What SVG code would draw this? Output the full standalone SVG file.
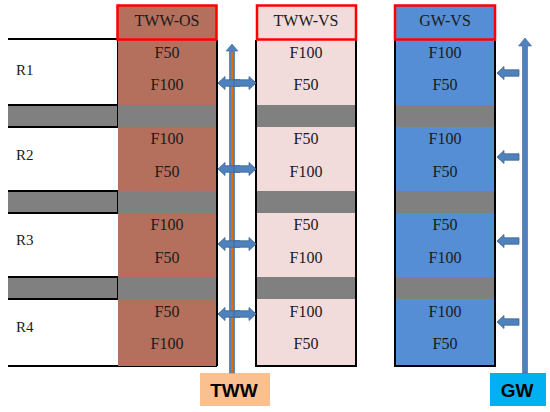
<svg xmlns="http://www.w3.org/2000/svg" width="550" height="412" viewBox="0 0 550 412">
<defs>
<style>
.lbl{font-family:"Liberation Serif","Times New Roman",serif;font-size:16px;fill:#1a1a1a;text-anchor:middle;dominant-baseline:central}
.rl{font-family:"Liberation Serif","Times New Roman",serif;font-size:15px;fill:#1a1a1a;dominant-baseline:central}
.box{font-family:"Liberation Sans",Arial,sans-serif;font-size:19px;font-weight:bold;fill:#000;text-anchor:middle;dominant-baseline:central}
.hdr{stroke:#ff0000;stroke-width:2.5}
.edge{stroke:#000;stroke-width:2;fill:none}
.gray{fill:#808080}
.arr{fill:#4f81bd;stroke:#3a6497;stroke-width:0.8}
</style>
<path id="la" d="M0,0 L7,-6.5 L7,-3.2 L22,-3.2 L22,3.2 L7,3.2 L7,6.5 Z"/>
</defs>

<g id="left-side">
<path class="edge" d="M8,39 H118"/>
<rect class="gray" x="8" y="105" width="110" height="22"/>
<rect class="gray" x="8" y="191" width="110" height="22"/>
<rect class="gray" x="8" y="277" width="110" height="22"/>
<path class="edge" d="M8,105 H118 M8,127 H118 M8,191 H118 M8,213 H118 M8,277 H118 M8,299 H118 M118,39 V127 M118,191 V213 M118,277 V299 M8,366 H217"/>
<text class="rl" x="16" y="70">R1</text>
<text class="rl" x="16" y="155">R2</text>
<text class="rl" x="16" y="240">R3</text>
<text class="rl" x="16" y="327">R4</text>
</g>

<g id="tww-os">
<rect x="118" y="40" width="99" height="326" fill="#b4705c"/>
<rect class="gray" x="118" y="105" width="99" height="22"/>
<rect class="gray" x="118" y="191" width="99" height="22"/>
<rect class="gray" x="118" y="277" width="99" height="22"/>
<path class="edge" d="M217,40 V366"/>
<rect class="hdr" x="117.5" y="5.5" width="99" height="34" fill="#b4705c"/>
<text class="lbl" x="167" y="20">TWW-OS</text>
<text class="lbl" x="167" y="52">F50</text>
<text class="lbl" x="167" y="84">F100</text>
<text class="lbl" x="167" y="138">F100</text>
<text class="lbl" x="167" y="171">F50</text>
<text class="lbl" x="167" y="224">F100</text>
<text class="lbl" x="167" y="257">F50</text>
<text class="lbl" x="167" y="311">F50</text>
<text class="lbl" x="167" y="343">F100</text>
</g>

<g id="tww-vs">
<rect x="257" y="40" width="99" height="326" fill="#f2dcdb"/>
<rect class="gray" x="257" y="105" width="99" height="22"/>
<rect class="gray" x="257" y="191" width="99" height="22"/>
<rect class="gray" x="257" y="277" width="99" height="22"/>
<path class="edge" d="M256,40 V366 H356 V40"/>
<rect class="hdr" x="257" y="5.5" width="99" height="34" fill="#f2dcdb"/>
<text class="lbl" x="306" y="20">TWW-VS</text>
<text class="lbl" x="306" y="52">F100</text>
<text class="lbl" x="306" y="84">F50</text>
<text class="lbl" x="306" y="138">F50</text>
<text class="lbl" x="306" y="171">F100</text>
<text class="lbl" x="306" y="224">F50</text>
<text class="lbl" x="306" y="257">F100</text>
<text class="lbl" x="306" y="311">F100</text>
<text class="lbl" x="306" y="343">F50</text>
</g>

<g id="gw-vs">
<rect x="395" y="40" width="100" height="326" fill="#558ed5"/>
<rect class="gray" x="395" y="105" width="100" height="22"/>
<rect class="gray" x="395" y="191" width="100" height="22"/>
<rect class="gray" x="395" y="277" width="100" height="22"/>
<path class="edge" d="M395,40 V366 H495 V40"/>
<rect class="hdr" x="395" y="5.5" width="100" height="34" fill="#558ed5"/>
<text class="lbl" x="445" y="20">GW-VS</text>
<text class="lbl" x="445" y="52">F100</text>
<text class="lbl" x="445" y="84">F50</text>
<text class="lbl" x="445" y="138">F100</text>
<text class="lbl" x="445" y="171">F50</text>
<text class="lbl" x="445" y="224">F50</text>
<text class="lbl" x="445" y="257">F100</text>
<text class="lbl" x="445" y="311">F100</text>
<text class="lbl" x="445" y="343">F50</text>
</g>

<g id="tww-source">
<rect x="200" y="373" width="70" height="33" fill="#fac090"/>
<text class="box" x="234" y="390">TWW</text>
</g>

<g id="gw-source">
<rect x="490" y="373" width="56" height="33" fill="#00b0f0"/>
<text class="box" x="517" y="390">GW</text>
</g>

<g id="connectors">
<path d="M229.5,373 V51 H226 L232,44 L238,51 H234.5 V373 Z" fill="#4f81bd" stroke="#3a6497" stroke-width="0.6"/>
<path d="M232,373 V52" stroke="#e46c0a" stroke-width="2"/>
<g class="arr">
<use href="#la" x="218" y="83"/>
<use href="#la" x="218" y="169"/>
<use href="#la" x="218" y="244"/>
<use href="#la" x="218" y="314"/>
<use href="#la" transform="translate(256,83) scale(-1,1)"/>
<use href="#la" transform="translate(256,169) scale(-1,1)"/>
<use href="#la" transform="translate(256,244) scale(-1,1)"/>
<use href="#la" transform="translate(256,314) scale(-1,1)"/>
<use href="#la" x="497" y="73"/>
<use href="#la" x="497" y="157"/>
<use href="#la" x="497" y="241"/>
<use href="#la" x="497" y="322"/>
</g>
<path d="M522.5,373 V46 H518.5 L525,38 L531.5,46 H527.5 V373 Z" fill="#4f81bd" stroke="#3a6497" stroke-width="0.6"/>
</g>
</svg>
